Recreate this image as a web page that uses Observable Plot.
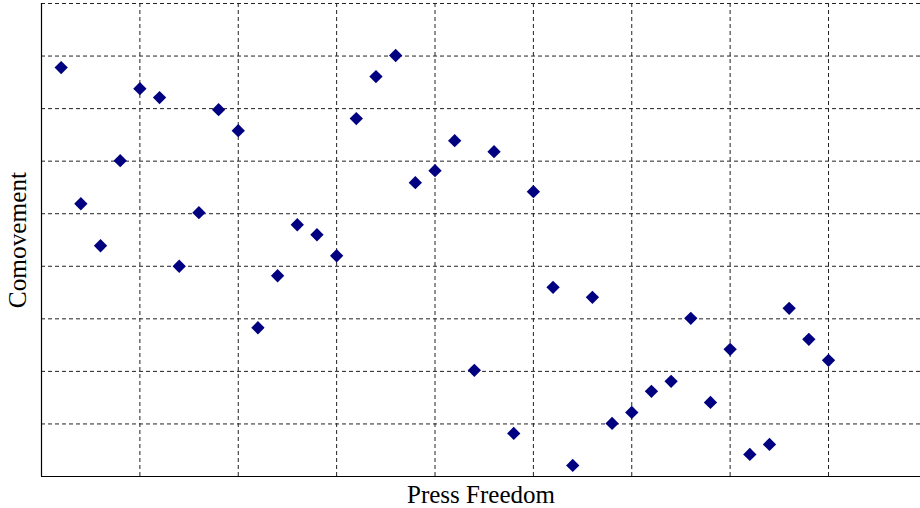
<!DOCTYPE html>
<html>
<head>
<meta charset="utf-8">
<script src="https://cdn.jsdelivr.net/npm/d3@7"></script>
<script src="https://cdn.jsdelivr.net/npm/@observablehq/plot@0.6"></script>
<style>
  html, body { margin: 0; padding: 0; background: #fff; }
  #chart svg { display: block; }
</style>
</head>
<body>
<div id="chart"></div>
<script>
const pressFreedom = [0.2, 0.4, 0.6, 0.8, 1.0, 1.2, 1.4, 1.6, 1.8, 2.0,
  2.2, 2.4, 2.6, 2.8, 3.0, 3.2, 3.4, 3.6, 3.8, 4.0,
  4.2, 4.4, 4.6, 4.8, 5.0, 5.2, 5.4, 5.6, 5.8, 6.0,
  6.2, 6.4, 6.6, 6.8, 7.0, 7.2, 7.4, 7.6, 7.8, 8.0];
const comovement = [7.78, 5.19, 4.39, 6.01, 7.38, 7.21, 4.00, 5.02, 6.98, 6.58,
  2.83, 3.82, 4.79, 4.60, 4.20, 6.81, 7.61, 8.01, 5.59, 5.82,
  6.39, 2.02, 6.18, 0.82, 5.42, 3.60, 0.21, 3.41, 1.01, 1.22,
  1.62, 1.81, 3.01, 1.41, 2.42, 0.42, 0.61, 3.20, 2.61, 2.21];
const xGridTicks = [1, 2, 3, 4, 5, 6, 7, 8];
const yGridTicks = [1, 2, 3, 4, 5, 6, 7, 8, 9];

const points = pressFreedom.map((x, i) => ({x, y: comovement[i]}));
const font = "'Liberation Serif', 'Times New Roman', serif";

const chart = Plot.plot({
  width: 920,
  height: 508,
  marginLeft: 41,
  marginRight: 0,
  marginTop: 3,
  marginBottom: 32,
  style: {fontFamily: font, background: "#fff"},
  x: {domain: [0, 8.935], axis: null},
  y: {domain: [0, 9], axis: null},
  marks: [
    Plot.gridX(xGridTicks, {stroke: "#222", strokeOpacity: 1, strokeWidth: 1, strokeDasharray: "4,3"}),
    Plot.gridY(yGridTicks, {stroke: "#222", strokeOpacity: 1, strokeWidth: 1, strokeDasharray: "4,3"}),
    Plot.ruleX([0], {stroke: "#000", strokeWidth: 1.2}),
    Plot.ruleY([0], {stroke: "#000", strokeWidth: 1.2}),
    Plot.dot(points, {x: "x", y: "y", symbol: "diamond2", r: 6, fill: "#000080", stroke: "none"}),
    Plot.text(["Press Freedom"], {frameAnchor: "bottom", textAnchor: "middle", lineAnchor: "middle", dy: 18.5, fontSize: 25, fontFamily: font, fill: "#000"}),
    Plot.text(["Comovement"], {frameAnchor: "left", textAnchor: "middle", lineAnchor: "middle", rotate: -90, dx: -24, fontSize: 25.3, fontFamily: font, fill: "#000", letterSpacing: "0.8px"})
  ]
});
document.getElementById("chart").appendChild(chart);
</script>
</body>
</html>
